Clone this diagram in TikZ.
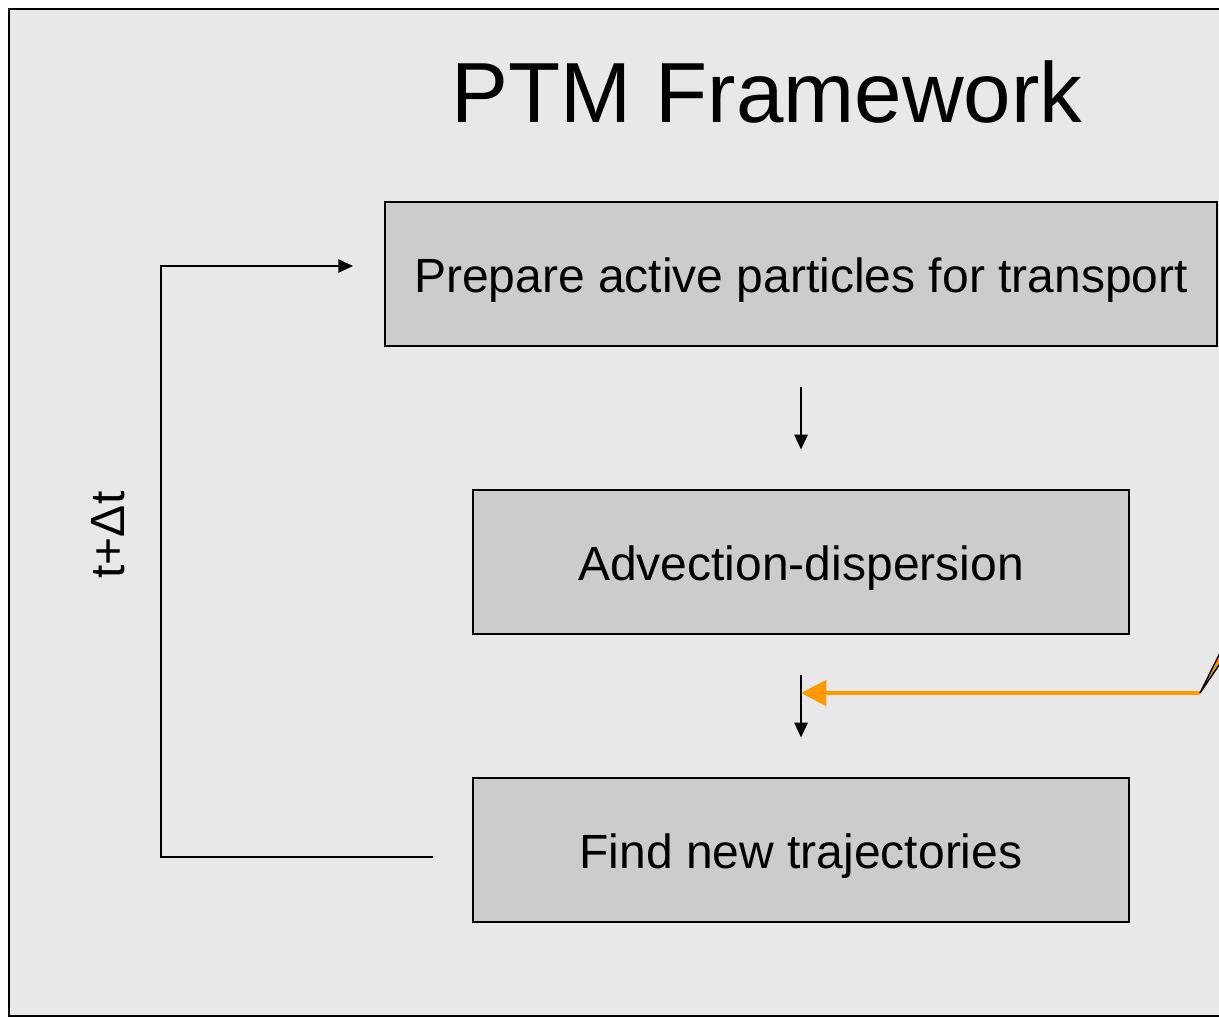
\documentclass[tikz,border=0pt]{standalone}
\usepackage{fontspec}
\setmainfont{Liberation Sans}
\usepackage{tikz}
\usetikzlibrary{arrows.meta}
\definecolor{fondo}{HTML}{E8E8E8}
\definecolor{caja}{HTML}{CCCCCC}
\definecolor{naranja}{HTML}{FF9900}

\begin{document}
\begin{tikzpicture}[x=0.75pt, y=-0.75pt, >={Triangle[length=11pt,width=10pt]},
  paso/.style={draw=black, line width=0.9pt, fill=caja, inner sep=0pt,
    minimum height=108pt, text height=27pt, text depth=0pt, font=\fontsize{36}{43}\selectfont},
  flecha/.style={->, line width=1.1pt, shorten <=30pt, shorten >=30pt}]
  \useasboundingbox (0,0) rectangle (1219,1017);
  \clip (0,0) rectangle (1219,1017);
  % marco
  \draw[line width=1.6pt, fill=fondo] (9,9) rectangle (1240,1016);
  \node (titulo) at (767,92) {\fontsize{64}{76}\selectfont PTM Framework};
  % pasos
  \node[paso, minimum width=624pt] (prep) at (801,274) {Prepare active particles for transport};
  \node[paso, minimum width=492pt] (adv) at (801,562) {Advection-dispersion};
  \node[paso, minimum width=492pt] (tray) at (801,850) {Find new trajectories};
  \draw[flecha] (prep.south) -- (adv.north);
  \draw[flecha] (adv.south) -- (tray.north);
  % bucle t+dt
  \coordinate (salida) at (433,857);
  \coordinate (entrada) at (353,266);
  \draw[->, line width=1.1pt] (salida) -- (161,857) |- (entrada);
  \node[rotate=90, font=\fontsize{36}{43}\selectfont] (paso_t) at (108,535) {t+Δt};
  % llamada
  \coordinate (punta) at (1200,693);
  \coordinate (impacto) at (801,693);
  \draw[-{Triangle[length=19pt,width=19pt]}, naranja, line width=3pt] (punta) -- (impacto);
  \draw[fill=naranja, line width=1.1pt, line join=miter] (punta) -- (1240,613) -- (1238,637) -- cycle;
\end{tikzpicture}
\end{document}
